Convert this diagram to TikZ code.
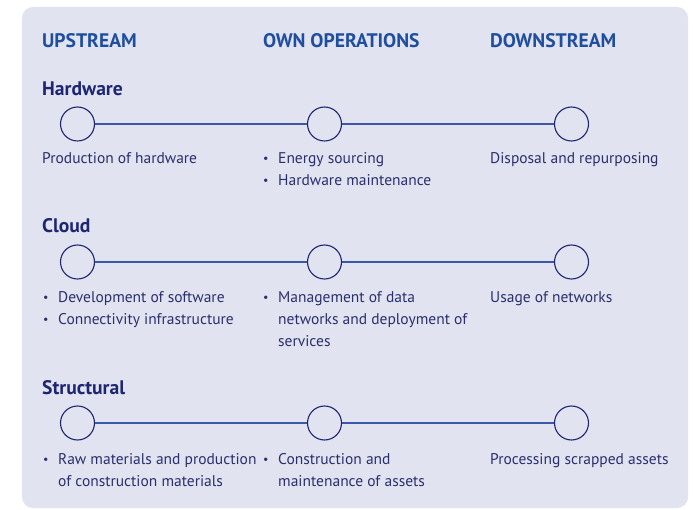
\documentclass[tikz,border=0pt]{standalone}
\usepackage{fontspec}
\setmainfont{PT Sans}
\begin{document}
\definecolor{panel}{HTML}{E1E3F1}
\definecolor{headblue}{HTML}{1F4E9E}
\definecolor{navy}{HTML}{1E2672}
\definecolor{bodytext}{HTML}{2A2F6C}
\definecolor{linkblue}{HTML}{3D56A6}
\begin{tikzpicture}[x=1pt,y=-1pt,
  colhead/.style={anchor=base west,inner sep=0pt,text=headblue,font=\fontsize{19.6}{22}\selectfont\bfseries},
  rowhead/.style={anchor=base west,inner sep=0pt,text=navy,font=\fontsize{19.6}{22}\selectfont\bfseries},
  item/.style={anchor=base west,inner sep=0pt,text=bodytext,font=\fontsize{15.5}{18}\selectfont},
  dot/.style={anchor=base west,inner sep=0pt,text=bodytext,font=\fontsize{12}{14}\selectfont},
  stage/.style={circle,draw=navy,line width=1.1pt,fill=panel,minimum size=34pt,inner sep=0pt},
  link/.style={draw=linkblue,line width=1.1pt}]
\useasboundingbox (0,0) rectangle (693,510);
\fill[white] (0,0) rectangle (693,510);
\fill[panel,rounded corners=11pt] (22,7) rectangle (688,508);

% column headers
\node[colhead] (hup)  at (42,48)  {UPSTREAM};
\node[colhead] (hown) at (263,48) {OWN OPERATIONS};
\node[colhead] (hdn)  at (490,48) {DOWNSTREAM};

% Hardware
\node[rowhead] (thw) at (42,96) {Hardware};
\node[stage] (hw1) at (77.5,124) {};
\node[stage] (hw2) at (324.5,124) {};
\node[stage] (hw3) at (571.5,124) {};
\draw[link] (hw1) -- (hw2);
\draw[link] (hw2) -- (hw3);
\node[item] (hwa) at (42,164) {Production of hardware};
\node[dot]  (hwb0) at (263,163) {•};
\node[item] (hwb) at (278,164) {Energy sourcing};
\node[dot]  (hwc0) at (263,185) {•};
\node[item] (hwc) at (278,186) {Hardware maintenance};
\node[item] (hwd) at (490,164) {Disposal and repurposing};

% Cloud
\node[rowhead] (tcl) at (42,233) {Cloud};
\node[stage] (cl1) at (77.5,262) {};
\node[stage] (cl2) at (324.5,262) {};
\node[stage] (cl3) at (571.5,262) {};
\draw[link] (cl1) -- (cl2);
\draw[link] (cl2) -- (cl3);
\node[dot]  (cla0) at (43,302) {•};
\node[item] (cla) at (58,303) {Development of software};
\node[dot]  (clb0) at (43,324) {•};
\node[item] (clb) at (58,325) {Connectivity infrastructure};
\node[dot]  (clc0) at (263,302) {•};
\node[item] (clc) at (278,303) {Management of data};
\node[item] (cld) at (278,325) {networks and deployment of};
\node[item] (cle) at (278,347) {services};
\node[item] (clf) at (490,303) {Usage of networks};

% Structural
\node[rowhead] (tst) at (42,394) {Structural};
\node[stage] (st1) at (77.5,423) {};
\node[stage] (st2) at (324.5,423) {};
\node[stage] (st3) at (571.5,423) {};
\draw[link] (st1) -- (st2);
\draw[link] (st2) -- (st3);
\node[dot]  (sta0) at (43,463) {•};
\node[item] (sta) at (58,464) {Raw materials and production};
\node[item] (stb) at (58,486) {of construction materials};
\node[dot]  (stc0) at (263,463) {•};
\node[item] (stc) at (278,464) {Construction and};
\node[item] (std) at (278,486) {maintenance of assets};
\node[item] (ste) at (490,464) {Processing scrapped assets};
\end{tikzpicture}
\end{document}
